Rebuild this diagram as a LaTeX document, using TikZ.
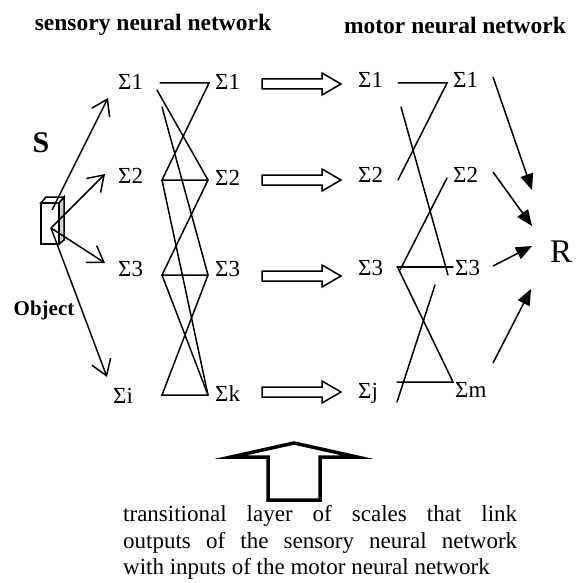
\documentclass[tikz,border=0pt]{standalone}
\usepackage{fontspec}
\setmainfont{Liberation Serif}
\usetikzlibrary{arrows.meta}
\begin{document}
\begin{tikzpicture}[x=1pt,y=-1pt,
  lbl/.style={anchor=base west, inner sep=0pt, font=\fontsize{23}{26}\selectfont},
  ttl/.style={inner sep=0pt, font=\fontsize{23.5}{26}\selectfont\bfseries},
  txt/.style={anchor=base west, inner sep=0pt, font=\fontsize{23}{26}\selectfont},
  net/.style={line width=1.5pt, line cap=round},
  inarrow/.style={-{Straight Barb[length=15pt,width=20pt]}, line width=1.5pt},
  outarrow/.style={-{Triangle[length=16pt,width=13pt]}, line width=1.5pt},
  blockarrow/.style={draw, line width=1.5pt, line join=miter},
  bigarrow/.style={draw, line width=3.5pt, line join=miter},
]
\useasboundingbox (0,0) rectangle (577,583);

% titles
\node[ttl] (tsens) at (153,25) {sensory neural network};
\node[ttl] (tmot) at (455,25) {motor neural network};

% side labels
\node[inner sep=0pt, font=\fontsize{30}{32}\selectfont\bfseries] (S) at (41,143) {S};
\node[inner sep=0pt, font=\fontsize{21}{24}\selectfont\bfseries] (obj) at (44,310) {Object};

% sigma labels
\node[lbl] (a1) at (118,90) {Σ1};
\node[lbl] (a2) at (118,183) {Σ2};
\node[lbl] (a3) at (118,276) {Σ3};
\node[lbl] (ai) at (113,403) {Σi};
\node[lbl] (b1) at (215,90) {Σ1};
\node[lbl] (b2) at (215,185) {Σ2};
\node[lbl] (b3) at (215,276) {Σ3};
\node[lbl] (bk) at (215,401) {Σk};
\node[lbl] (c1) at (358,88) {Σ1};
\node[lbl] (c2) at (358,182) {Σ2};
\node[lbl] (c3) at (358,275) {Σ3};
\node[lbl] (cj) at (358,398) {Σj};
\node[lbl] (d1) at (453,88) {Σ1};
\node[lbl] (d2) at (453,182) {Σ2};
\node[lbl] (d3) at (455,275) {Σ3};
\node[lbl] (dm) at (455,397) {Σm};
\node[inner sep=0pt, font=\fontsize{33}{36}\selectfont] (R) at (561,252) {R};

% object box
\draw[line width=1.5pt, fill=gray!35] (59,203) -- (64,197) -- (64,240) -- (59,244) -- cycle;
\draw[line width=1.5pt] (41,203) -- (46,197) -- (64,197) -- (59,203) -- cycle;
\draw[line width=1.5pt] (41,203) rectangle (59,244);

% object arrows
\coordinate (o1) at (52,210);
\coordinate (o) at (51,228);
\coordinate (e1) at (108,98);
\coordinate (e2) at (105,174);
\coordinate (e3) at (105,263);
\coordinate (e4) at (107,377);
\draw[inarrow] (o1) -- (e1);
\draw[inarrow] (o) -- (e2);
\draw[inarrow] (o) -- (e3);
\draw[inarrow] (o) -- (e4);

% sensory network
\coordinate (s1a) at (160,83);
\coordinate (s1b) at (209,83);
\coordinate (s1c) at (157,90);
\coordinate (s1d) at (162,107);
\coordinate (s2a) at (162,180);
\coordinate (s2b) at (208,180);
\coordinate (s3a) at (162,275);
\coordinate (s3b) at (208,275);
\coordinate (ska) at (162,395);
\coordinate (skb) at (208,395);
\draw[net] (s1a) -- (s1b) -- (s2a) -- (s2b) -- (s3a) -- (s3b) -- (ska) -- (skb);
\draw[net] (s1c) -- (s2b);
\draw[net] (s1d) -- (s3b);
\draw[net] (s2a) -- (skb);
\draw[net] (s3a) -- (skb);

% block arrows
\foreach \yy in {84,180,276,392}
  \draw[blockarrow] (262,\yy-5) -- (322,\yy-5) -- (322,\yy-11) -- (341,\yy) -- (322,\yy+11) -- (322,\yy+5) -- (262,\yy+5) -- cycle;

% motor network
\coordinate (m1a) at (398,83);
\coordinate (m1b) at (447,83);
\coordinate (m2a) at (398,180);
\coordinate (m1c) at (401,107);
\coordinate (m3e) at (448,275);
\coordinate (m2b) at (447,178);
\coordinate (m3a) at (400,270);
\coordinate (m3h) at (397,267);
\coordinate (m3k) at (453,267);
\coordinate (m3c) at (398,268);
\coordinate (mja) at (397,382);
\coordinate (mmb) at (453,382);
\coordinate (m4s) at (435,285);
\coordinate (m4e) at (397,402);
\draw[net] (m1a) -- (m1b) -- (m2a);
\draw[net] (m1c) -- (m3e);
\draw[net] (m2b) -- (m3a);
\draw[net] (m3h) -- (m3k);
\draw[net] (m3c) -- (mmb) -- (mja);
\draw[net] (m4s) -- (m4e);

% output arrows to R
\coordinate (r1s) at (493,77);
\coordinate (r1e) at (532,190);
\coordinate (r2s) at (493,172);
\coordinate (r2e) at (532,226);
\coordinate (r3s) at (493,266);
\coordinate (r3e) at (532,246);
\coordinate (r4s) at (493,363);
\coordinate (r4e) at (531,289);
\draw[outarrow] (r1s) -- (r1e);
\draw[outarrow] (r2s) -- (r2e);
\draw[outarrow] (r3s) -- (r3e);
\draw[outarrow] (r4s) -- (r4e);

% big up arrow
\draw[bigarrow] (268,500) -- (268,457) -- (231,457) -- (294,443) -- (357,457) -- (320,457) -- (320,500) -- cycle;

% bottom text
\node[txt] (l1) at (123,521) {\makebox[394pt][s]{transitional layer of scales that link}};
\node[txt] (l2) at (123,548) {\makebox[394pt][s]{outputs of the sensory neural network}};
\node[txt] (l3) at (123,574) {with inputs of the motor neural network};
\end{tikzpicture}
\end{document}
